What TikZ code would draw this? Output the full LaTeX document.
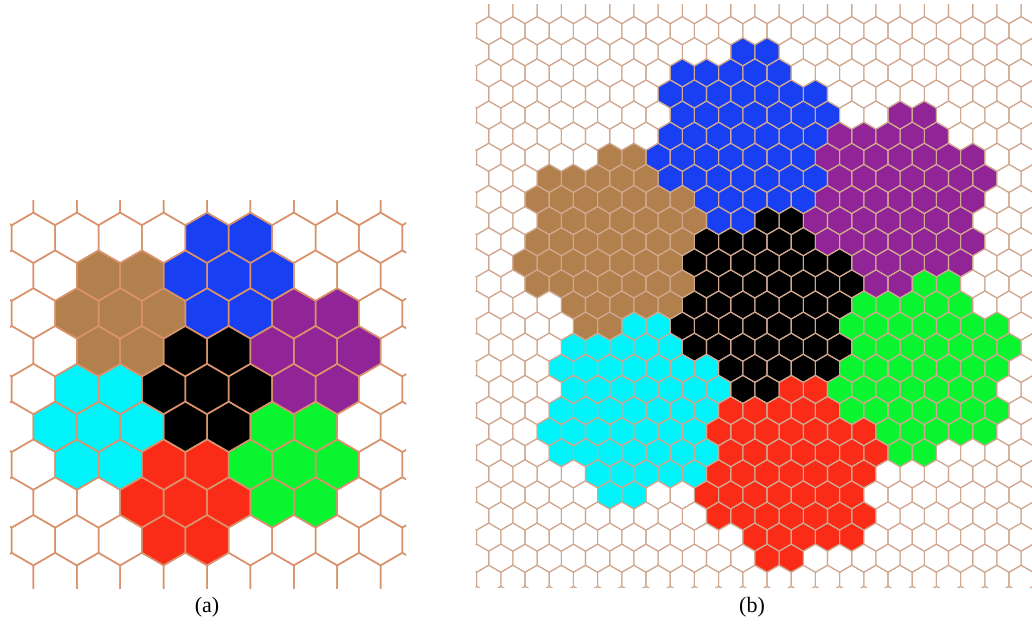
\documentclass[tikz,border=0pt]{standalone}
\usepackage{fontspec}
\setmainfont{Liberation Serif}

\definecolor{cellblue}{RGB}{24,64,242}
\definecolor{cellbrown}{RGB}{178,128,76}
\definecolor{cellpurple}{RGB}{145,36,150}
\definecolor{cellblack}{RGB}{0,0,0}
\definecolor{cellcyan}{RGB}{0,244,250}
\definecolor{cellgreen}{RGB}{8,245,48}
\definecolor{cellred}{RGB}{250,44,24}
\definecolor{gridA}{RGB}{218,146,108}
\definecolor{gridB}{RGB}{208,168,144}

% pointy-top hexagon round (#1,#2), half width \hw, radius \hr
\newcommand{\hexcell}[2]{(#1,#2) ++(0,-\hr) -- ++(\hw,\hr/2) -- ++(0,\hr)
  -- ++(-\hw,\hr/2) -- ++(-\hw,-\hr/2) -- ++(0,-\hr) -- cycle}

\tikzset{
  sublabel/.style={font=\fontsize{22}{24}\selectfont}
}

\begin{document}
\begin{tikzpicture}[x=1pt,y=-1pt]
  \useasboundingbox (0,0) rectangle (1032,629);

  % (a) seven clusters of seven cells
  \def\hw{21.7}\def\hr{25.2}
  \begin{scope}
    \clip (10,200) rectangle (406,588);
    \foreach \fq/\fr/\col in {0/0/cellblack,2/-3/cellblue,3/-1/cellpurple,1/2/cellgreen,
                              -2/3/cellred,-3/1/cellcyan,-1/-2/cellbrown}{
      \foreach \dq/\dr in {0/0,1/0,-1/0,0/1,0/-1,1/-1,-1/1}{
        \pgfmathsetmacro\cx{207+43.4*(\fq+\dq+0.5*(\fr+\dr))}
        \pgfmathsetmacro\cy{389+37.8*(\fr+\dr)}
        \fill[fill=\col] \hexcell{\cx}{\cy};
      }
    }
    \foreach \i in {-6,...,6}{
      \foreach \j in {-6,...,6}{
        \pgfmathsetmacro\cx{207+43.4*(\j+0.5*mod(abs(\i),2))}
        \pgfmathsetmacro\cy{389+37.8*\i}
        \draw[gridA,line width=1.5pt] \hexcell{\cx}{\cy};
      }
    }
  \end{scope}

  % (b) seven clusters of 49 cells
  \def\hw{12.1}\def\hr{14.07}
  \begin{scope}
    \clip (475.5,4) rectangle (1032,587);
    \foreach \gq/\gr/\col in {0/0/cellblack,3/-8/cellblue,8/-5/cellpurple,5/3/cellgreen,
                              -3/8/cellred,-8/5/cellcyan,-5/-3/cellbrown}{
      \foreach \fq/\fr in {0/0,2/-3,3/-1,1/2,-2/3,-3/1,-1/-2}{
        \foreach \dq/\dr in {0/0,1/0,-1/0,0/1,0/-1,1/-1,-1/1}{
          \pgfmathsetmacro\cx{767+24.2*(\gq+\fq+\dq+0.5*(\gr+\fr+\dr))}
          \pgfmathsetmacro\cy{305+21.1*(\gr+\fr+\dr)}
          \fill[fill=\col] \hexcell{\cx}{\cy};
        }
      }
    }
    \foreach \i in {-15,...,14}{
      \foreach \j in {-13,...,12}{
        \pgfmathsetmacro\cx{767+24.2*(\j+0.5*mod(abs(\i),2))}
        \pgfmathsetmacro\cy{305+21.1*\i}
        \draw[gridB,line width=1.1pt] \hexcell{\cx}{\cy};
      }
    }
  \end{scope}

  \node[sublabel] (labela) at (207,607) {(a)};
  \node[sublabel] (labelb) at (752,607) {(b)};
\end{tikzpicture}
\end{document}
